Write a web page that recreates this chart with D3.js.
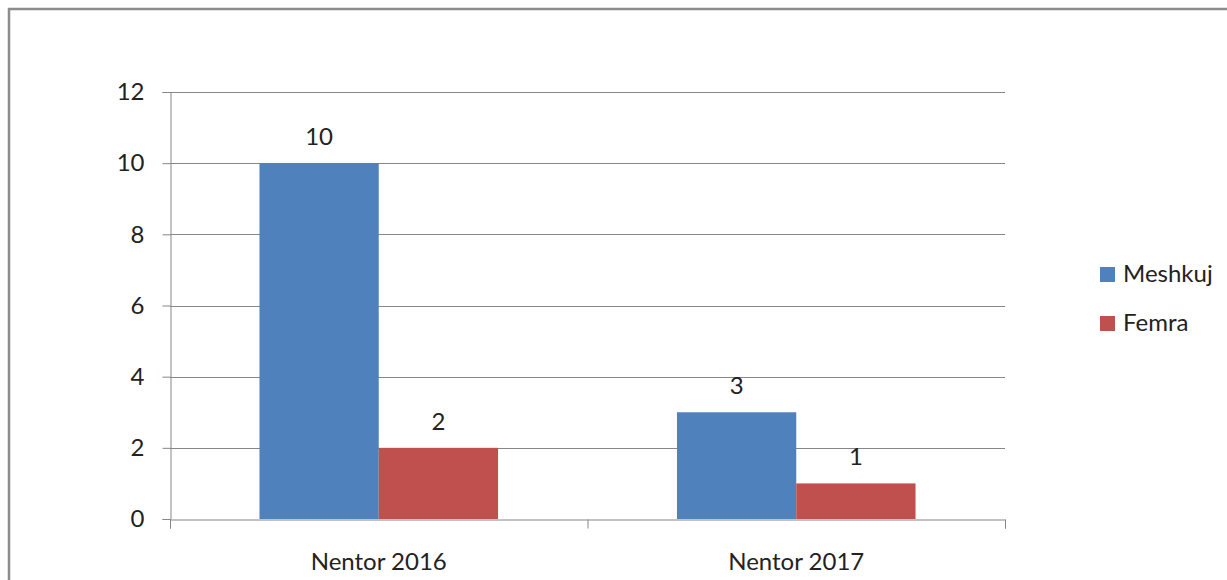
<!DOCTYPE html>
<html>
<head>
<meta charset="utf-8">
<script src="https://cdn.jsdelivr.net/npm/d3@7"></script>
<style>
  html, body { margin: 0; padding: 0; background: #fff; overflow: hidden; }
  svg { display: block; }
  text { font-family: Lato, "Open Sans", sans-serif; fill: #222; }
</style>
</head>
<body>
<svg id="chart" width="1227" height="580"></svg>
<script>
const categories = ["Nentor 2016", "Nentor 2017"];
const seriesNames = ["Meshkuj", "Femra"];
const meshkuj = [10, 3];
const femra = [2, 1];
const yTicks = [0, 2, 4, 6, 8, 10, 12];
const colors = ["#4F81BD", "#C0504D"];

const seriesValues = [meshkuj, femra];
const data = categories.map((c, i) => ({
  category: c,
  values: seriesNames.map((s, j) => ({ series: s, value: seriesValues[j][i], color: colors[j] }))
}));

const svg = d3.select("#chart");
const fontSize = 24;
const gridColor = "#878787";

// Outer border (extends past right/bottom edge as in reference)
svg.append("rect")
  .attr("x", 9).attr("y", 9)
  .attr("width", 1240).attr("height", 620)
  .attr("fill", "#fff")
  .attr("stroke", "#8c8c8c")
  .attr("stroke-width", 2.5);

const plot = { left: 170, right: 1005, top: 92, bottom: 519 };

const x0 = d3.scaleBand()
  .domain(categories)
  .range([plot.left, plot.right])
  .paddingInner(0).paddingOuter(0);

// gap width 150%: bars occupy 2/(2+1.5) of each band, centered
const x1 = d3.scaleBand()
  .domain(seriesNames)
  .range([0, x0.bandwidth()])
  .paddingInner(0)
  .paddingOuter(0.75);

const y = d3.scaleLinear().domain([0, 12]).range([plot.bottom, plot.top]);

// Gridlines
svg.append("g")
  .selectAll("line")
  .data(yTicks.filter(t => t !== 0))
  .join("line")
  .attr("x1", plot.left).attr("x2", plot.right)
  .attr("y1", d => Math.round(y(d)) + 0.5).attr("y2", d => Math.round(y(d)) + 0.5)
  .attr("stroke", gridColor).attr("stroke-width", 1);

// Bars
const groups = svg.append("g")
  .selectAll("g")
  .data(data)
  .join("g")
  .attr("transform", d => `translate(${x0(d.category)},0)`);

groups.selectAll("rect")
  .data(d => d.values)
  .join("rect")
  .attr("x", d => x1(d.series))
  .attr("width", x1.bandwidth())
  .attr("y", d => y(d.value))
  .attr("height", d => y(0) - y(d.value))
  .attr("fill", d => d.color);

// Value labels
groups.selectAll("text.val")
  .data(d => d.values)
  .join("text")
  .attr("class", "val")
  .attr("x", d => x1(d.series) + x1.bandwidth() / 2)
  .attr("y", d => y(d.value) - 18)
  .attr("text-anchor", "middle")
  .attr("font-size", fontSize)
  .text(d => d.value);

// Y axis
const yAxis = d3.axisLeft(y).tickValues(yTicks).tickSize(8).tickPadding(18).tickFormat(d3.format("d"));
const yg = svg.append("g")
  .attr("transform", `translate(${plot.left + 0.5},0)`)
  .call(yAxis);
yg.select(".domain").attr("stroke", gridColor);
yg.selectAll(".tick line").attr("stroke", gridColor);
yg.selectAll(".tick text").attr("font-size", fontSize).attr("font-family", "Lato, sans-serif").attr("fill", "#222");

// X axis (ticks at band boundaries)
const xg = svg.append("g")
  .attr("transform", `translate(0,${Math.round(y(0)) + 0.5})`);
const xLin = d3.scaleLinear().domain([0, categories.length]).range([plot.left, plot.right]);
const xAxis = d3.axisBottom(xLin).ticks(categories.length).tickValues(d3.range(categories.length + 1))
  .tickSize(9).tickFormat("");
xg.call(xAxis);
xg.select(".domain").attr("stroke", gridColor);
xg.selectAll(".tick line").attr("stroke", gridColor);

svg.append("g")
  .selectAll("text")
  .data(categories)
  .join("text")
  .attr("x", d => x0(d) + x0.bandwidth() / 2)
  .attr("y", 570)
  .attr("text-anchor", "middle")
  .attr("font-size", fontSize)
  .text(d => d);

// Legend
const legend = svg.append("g")
  .selectAll("g")
  .data(seriesNames)
  .join("g")
  .attr("transform", (d, i) => `translate(1100,${267 + i * 49})`);
legend.append("rect")
  .attr("width", 15).attr("height", 15)
  .attr("fill", (d, i) => colors[i]);
legend.append("text")
  .attr("x", 23).attr("y", 15)
  .attr("font-size", fontSize)
  .text(d => d);
</script>
</body>
</html>
